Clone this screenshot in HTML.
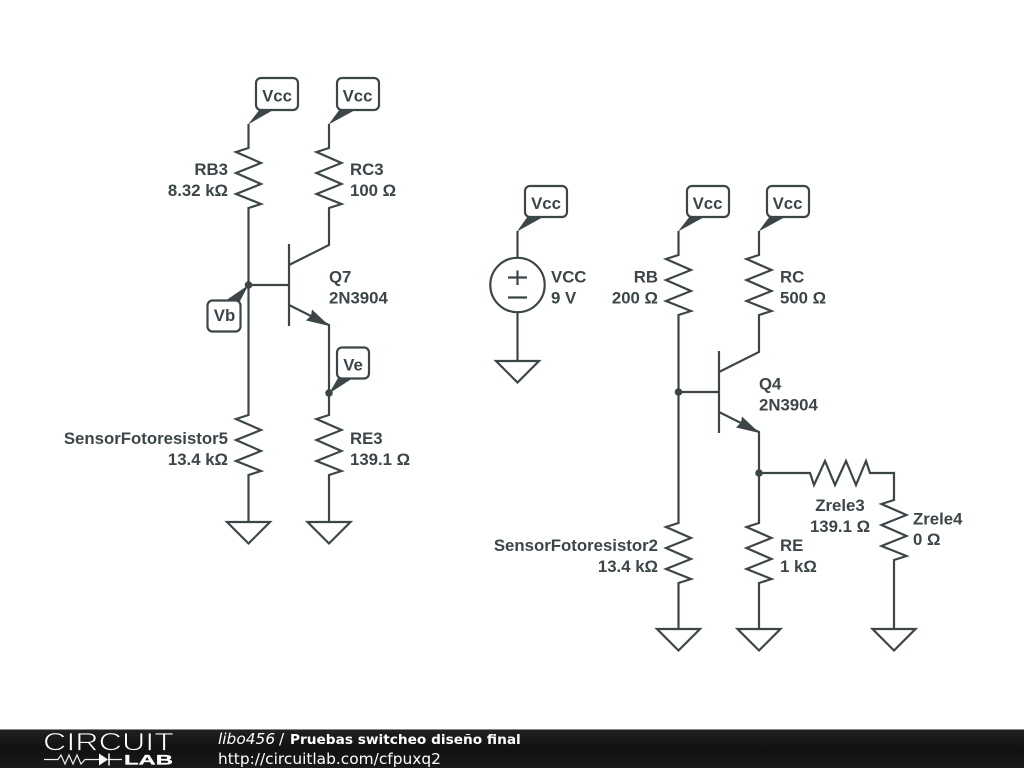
<!DOCTYPE html>
<html><head><meta charset="utf-8">
<style>html,body{margin:0;padding:0;background:#fff;width:1024px;height:768px;overflow:hidden}svg{display:block}
.w{fill:none;stroke:#3c4649;stroke-width:2.2;stroke-linejoin:miter}
.t{font-family:"Liberation Sans",sans-serif;font-weight:bold;font-size:16.8px;fill:#3c4649}
.e{text-anchor:end}.m{text-anchor:middle}
.b{fill:#fff;stroke:#3c4649;stroke-width:2.2}
.f{fill:#3c4649;stroke:none}
.d{font-family:"DejaVu Sans",sans-serif;font-size:15.4px;fill:#fff}
</style></head><body>
<svg width="1024" height="768" viewBox="0 0 1024 768" xmlns="http://www.w3.org/2000/svg">
<defs>
<linearGradient id="g" x1="0" y1="0" x2="0" y2="1"><stop offset="0" stop-color="#222"/><stop offset="0.5" stop-color="#111"/><stop offset="1" stop-color="#1a1a1a"/></linearGradient>
</defs>
<!-- left circuit wires -->
<path class="w" d="M248.500 124V148L236 152 261 163 236 173 261 184 236 194 261 204 248.500 208V415L236 419 261 430 236 440 261 451 236 461 261 471 248.500 475V522"/>
<path class="w" d="M329 124V148L316.500 152 341.500 163 316.500 173 341.500 184 316.500 194 341.500 204 329 208V245L289 265"/>
<path class="w" d="M289 244V326M248.500 285H289M289 305L329 325V415L316.500 419 341.500 430 316.500 440 341.500 451 316.500 461 341.500 471 329 475V522"/>
<path class="w" d="M227 522H270L248.500 543.500ZM307.500 522H350.500L329 543.500Z"/>
<path class="f" d="M329.500 326L312 309.500 311 315.500 306 320.500Z"/>
<circle class="f" cx="248.500" cy="285" r="3.800"/><circle class="f" cx="329" cy="393" r="3.800"/>
<!-- left flags -->
<path class="f" d="M248 124.500L260 109H275ZM328.500 124.500L340 109H357ZM248.500 285L225 301H240ZM329 393.500L338 378H353Z"/>
<rect class="b" x="256" y="78" width="42" height="32" rx="5"/>
<rect class="b" x="337" y="78" width="42" height="32" rx="5"/>
<rect class="b" x="207.500" y="300.500" width="33" height="31" rx="5"/>
<rect class="b" x="337" y="347.500" width="32" height="31" rx="5"/>
<text class="t m" x="277" y="101.500">Vcc</text>
<text class="t m" x="357.500" y="101.500">Vcc</text>
<text class="t m" x="224.500" y="321">Vb</text>
<text class="t m" x="353" y="370.500">Ve</text>
<text class="t e" x="228" y="175">RB3</text>
<text class="t e" x="228" y="196">8.32 kΩ</text>
<text class="t" x="350" y="175">RC3</text>
<text class="t" x="350" y="196">100 Ω</text>
<text class="t" x="329" y="282.500">Q7</text>
<text class="t" x="329" y="303.500">2N3904</text>
<text class="t e" x="228" y="444">SensorFotoresistor5</text>
<text class="t e" x="228" y="465">13.4 kΩ</text>
<text class="t" x="350" y="444">RE3</text>
<text class="t" x="350" y="465">139.1 Ω</text>
<!-- source -->
<path class="w" d="M517.500 231V258M517.500 312V361M496 361H539L517.500 382.500Z"/>
<circle class="w" cx="517.500" cy="285" r="27.200"/>
<path class="w" d="M508 277.500H527M517.500 270.500V285M508 297.500H527"/>
<path class="f" d="M517 231.500L528 216H545Z"/>
<rect class="b" x="525" y="186" width="42" height="31" rx="5"/>
<text class="t m" x="546" y="209">Vcc</text>
<text class="t" x="551" y="282.500">VCC</text>
<text class="t" x="551" y="303.500">9 V</text>
<!-- right circuit -->
<path class="w" d="M678.500 231V255L666 259 691 270 666 280 691 291 666 301 691 311 678.500 315V523L666 527 691 538 666 548 691 559 666 569 691 579 678.500 583V629"/>
<path class="w" d="M759 231V255L746.500 259 771.500 270 746.500 280 771.500 291 746.500 301 771.500 311 759 315V352L719 372"/>
<path class="w" d="M719 351V433M678.500 392H719M719 412L759 432V523L746.500 527 771.500 538 746.500 548 771.500 559 746.500 569 771.500 579 759 583V629"/>
<path class="w" d="M759 473H810L814 485 825 461 835 485 846 461 856 485 866 461 870 473H894V500L881.500 504 906.500 515 881.500 525 906.500 536 881.500 546 906.500 556 894 560V629"/>
<path class="w" d="M657 629H700L678.500 650.500ZM737.500 629H780.500L759 650.500ZM872.500 629H915.500L894 650.500Z"/>
<path class="f" d="M759.500 433L742 416.500 741 422.500 736 427.500Z"/>
<circle class="f" cx="678.500" cy="392" r="3.800"/><circle class="f" cx="759" cy="473" r="3.800"/>
<path class="f" d="M678 231.500L690 216H706ZM758.500 231.500L770 216H787Z"/>
<rect class="b" x="687" y="186" width="42" height="31" rx="5"/>
<rect class="b" x="767" y="186" width="42" height="31" rx="5"/>
<text class="t m" x="707.500" y="209">Vcc</text>
<text class="t m" x="787.500" y="209">Vcc</text>
<text class="t e" x="658" y="282.500">RB</text>
<text class="t e" x="658" y="303.500">200 Ω</text>
<text class="t" x="780" y="282.500">RC</text>
<text class="t" x="780" y="303.500">500 Ω</text>
<text class="t" x="759" y="389.500">Q4</text>
<text class="t" x="759" y="410.500">2N3904</text>
<text class="t e" x="658" y="551">SensorFotoresistor2</text>
<text class="t e" x="658" y="572">13.4 kΩ</text>
<text class="t" x="780" y="551">RE</text>
<text class="t" x="780" y="572">1 kΩ</text>
<text class="t m" x="840" y="511">Zrele3</text>
<text class="t m" x="840" y="532">139.1 Ω</text>
<text class="t" x="913" y="524.500">Zrele4</text>
<text class="t" x="913" y="545">0 Ω</text>
<!-- footer -->
<rect x="0" y="729" width="1024" height="39" fill="url(#g)"/>
<rect x="0" y="729" width="1024" height="1" fill="#888"/>
<text x="43" y="750.500" textLength="131" lengthAdjust="spacingAndGlyphs" font-family="Liberation Sans, sans-serif" font-size="25" fill="#fff" stroke="#161616" stroke-width="0.8">CIRCUIT</text>
<path d="M44 759.500H58L61 755 65 764 69 755 73 764 77 755 81 764 85 759.500H100M108 759.500H122" fill="none" stroke="#eee" stroke-width="1.200"/>
<path d="M99 753.500L108 759.500 99 765.500Z" fill="#fff"/><path d="M109 753.500V765.500" stroke="#fff" stroke-width="1.500"/>
<text x="124" y="764.500" textLength="49" lengthAdjust="spacingAndGlyphs" font-family="Liberation Sans, sans-serif" font-weight="bold" font-size="14" fill="#fff" stroke="#fff" stroke-width="0.3">LAB</text>
<text class="d" x="218" y="744" font-style="italic">libo456</text>
<text class="d" x="279" y="744">/</text>
<text class="d" x="290" y="744" font-weight="bold" style="font-size:13.7px">Pruebas switcheo diseño final</text>
<text class="d" x="218" y="764">http://circuitlab.com/cfpuxq2</text>
</svg>
</body></html>
